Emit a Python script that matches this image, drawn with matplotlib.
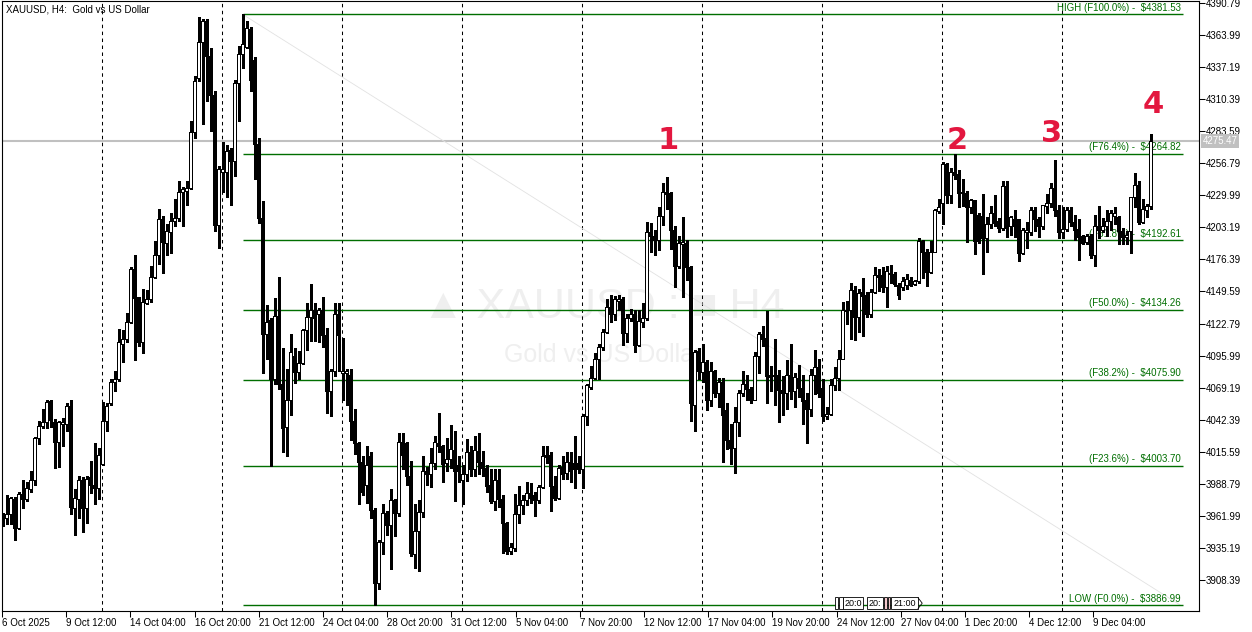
import numpy as np
import matplotlib.pyplot as plt
from matplotlib.patches import Rectangle, Polygon
import matplotlib.transforms as mtransforms

plt.rcParams['font.family'] = ['Liberation Sans', 'DejaVu Sans']
plt.rcParams['lines.scale_dashes'] = False

# XAUUSD H4 candles (bar 0 = 6 Oct 2025)
opens = [3963, 3960, 3963, 3976, 3952, 3980, 3976, 3984, 3992, 4027,
         4037, 4040, 4058, 4040, 4024, 4039, 4039, 4054, 3968, 3976,
         3992, 3968, 3994, 3988, 3985, 4005, 4041, 4056, 4074, 4076,
         4106, 4110, 4124, 4168, 4145, 4107, 4140, 4143, 4162, 4180,
         4210, 4190, 4199, 4209, 4211, 4233, 4234, 4236, 4283, 4328,
         4358, 4376, 4347, 4314, 4205, 4250, 4250, 4268, 4259, 4324,
         4348, 4354, 4369, 4343, 4273, 4211, 4114, 4126, 4076, 4129,
         4072, 4036, 4059, 4096, 4082, 4090, 4117, 4128, 4134, 4131,
         4134, 4113, 4066, 4083, 4131, 4081, 4081, 4080, 4041, 4023,
         4007, 3988, 4012, 3967, 3906, 3940, 3964, 3954, 3975, 3964,
         4024, 4023, 3995, 3930, 3949, 3965, 3999, 3997, 4006, 4023,
         4020, 4006, 4009, 4017, 4004, 3992, 3997, 4015, 4001, 4016,
         4007, 4002, 3988, 3974, 3992, 3976, 3956, 3932, 3935, 3963,
         3971, 3975, 3981, 3979, 3975, 3986, 4013, 4013, 3987, 3977,
         4003, 3998, 4007, 4006, 4006, 4001, 4045, 4070, 4077, 4093,
         4103, 4116, 4137, 4131, 4142, 4143, 4115, 4127, 4131, 4105,
         4124, 4127, 4199, 4196, 4193, 4213, 4233, 4232, 4201, 4171,
         4189, 4190, 4170, 4055, 4100, 4082, 4091, 4059, 4083, 4065,
         4074, 4050, 4025, 4019, 4040, 4065, 4072, 4068, 4059, 4096,
         4114, 4111, 4080, 4079, 4080, 4067, 4065, 4080, 4066, 4077,
         4069, 4059, 4051, 4080, 4086, 4069, 4045, 4047, 4071, 4077,
         4093, 4133, 4134, 4151, 4128, 4149, 4147, 4131, 4149, 4163,
         4163, 4153, 4164, 4164, 4155, 4153, 4155, 4159, 4156, 4158,
         4192, 4183, 4166, 4183, 4217, 4224, 4256, 4230, 4250, 4248,
         4233, 4232, 4220, 4226, 4214, 4213, 4194, 4206, 4215, 4209,
         4203, 4238, 4204, 4210, 4210, 4182, 4199, 4199, 4218, 4210,
         4204, 4221, 4224, 4236, 4218, 4199, 4202, 4218, 4208, 4202,
         4196, 4191, 4196, 4180, 4204, 4201, 4204, 4209, 4213, 4212,
         4200, 4195, 4200, 4229, 4239, 4208, 4218, 4221]
highs = [3964, 3979, 3978, 3978, 3982, 3992, 3990, 3999, 4028, 4041,
         4051, 4059, 4059, 4043, 4041, 4044, 4056, 4059, 3984, 3995,
         3994, 3995, 4008, 4023, 4019, 4057, 4056, 4076, 4083, 4118,
         4117, 4132, 4170, 4180, 4145, 4152, 4151, 4171, 4192, 4219,
         4213, 4206, 4215, 4227, 4242, 4237, 4242, 4292, 4330, 4379,
         4378, 4378, 4353, 4317, 4255, 4275, 4272, 4270, 4327, 4355,
         4381.53, 4376, 4371, 4346, 4278, 4225, 4138, 4127, 4144, 4162,
         4102, 4085, 4114, 4102, 4100, 4118, 4140, 4156, 4140, 4136,
         4145, 4119, 4085, 4140, 4140, 4111, 4085, 4085, 4051, 4024,
         4012, 4020, 4015, 3968, 3942, 3972, 3966, 3984, 3976, 4031,
         4031, 4024, 4008, 3972, 3975, 4012, 4003, 4019, 4029, 4048,
         4021, 4027, 4038, 4033, 4012, 4004, 4026, 4020, 4029, 4031,
         4016, 4004, 4001, 4001, 4001, 3979, 3957, 3939, 3980, 3987,
         3979, 3990, 3989, 3982, 3988, 4020, 4020, 4015, 3995, 4004,
         4012, 4015, 4015, 4029, 4012, 4047, 4072, 4087, 4098, 4106,
         4118, 4143, 4147, 4146, 4147, 4145, 4131, 4135, 4134, 4134,
         4140, 4208, 4207, 4201, 4220, 4240, 4245, 4233, 4204, 4196,
         4212, 4193, 4171, 4101, 4102, 4106, 4092, 4091, 4084, 4077,
         4077, 4056, 4039, 4053, 4067, 4083, 4080, 4070, 4099, 4116,
         4121, 4133, 4087, 4110, 4084, 4079, 4092, 4106, 4081, 4088,
         4080, 4065, 4085, 4101, 4093, 4076, 4053, 4076, 4086, 4101,
         4141, 4142, 4157, 4154, 4152, 4161, 4149, 4152, 4170, 4168,
         4170, 4171, 4172, 4166, 4157, 4162, 4164, 4162, 4159, 4194,
         4193, 4185, 4192, 4219, 4227, 4258, 4257, 4253, 4264.8, 4251,
         4244, 4234, 4227, 4226, 4215, 4231, 4212, 4221, 4230, 4211,
         4242, 4242, 4213, 4218, 4210, 4203, 4208, 4220, 4220, 4212,
         4222, 4231, 4240, 4260, 4222, 4220, 4220, 4220, 4214, 4210,
         4197, 4198, 4198, 4214, 4221, 4211, 4218, 4218, 4220, 4213,
         4203, 4200, 4229, 4249, 4242, 4227, 4223, 4281]
lows = [3953, 3955, 3955, 3942, 3951, 3968, 3974, 3982, 3988, 4022,
        4035, 4035, 4036, 4002, 4003, 4020, 4033, 3963, 3946, 3960,
        3948, 3956, 3981, 3972, 3976, 4004, 4033, 4055, 4066, 4075,
        4091, 4107, 4123, 4092, 4104, 4098, 4139, 4141, 4161, 4173,
        4165, 4180, 4182, 4204, 4209, 4204, 4222, 4235, 4278, 4326,
        4290, 4309, 4284, 4200, 4186, 4233, 4229, 4222, 4246, 4292,
        4337, 4353, 4317, 4244, 4207, 4081, 4093, 4003.7, 4072, 4068,
        4015, 4012, 4046, 4073, 4076, 4089, 4101, 4108, 4108, 4107,
        4103, 4048, 4045, 4079, 4083, 4059, 4055, 4025, 4014, 3972,
        3979, 3973, 3960, 3886.99, 3901, 3930, 3946, 3917, 3945, 3962,
        4001, 3988, 3928, 3918, 3916, 3961, 3988, 3986, 4001, 4015,
        3990, 3999, 4002, 3974, 3990, 3972, 3991, 3995, 3995, 3997,
        3995, 3982, 3973, 3967, 3969, 3931, 3930, 3930, 3932, 3956,
        3963, 3971, 3973, 3962, 3973, 3985, 4006, 3966, 3975, 3976,
        3993, 3993, 3990, 3985, 3998, 3985, 4038, 4068, 4076, 4076,
        4101, 4115, 4124, 4126, 4134, 4105, 4107, 4125, 4099, 4104,
        4120, 4126, 4183, 4180, 4184, 4205, 4219, 4185, 4153, 4169,
        4145, 4159, 4041, 4033, 4076, 4074, 4050, 4054, 4061, 4053,
        4007, 4018, 4005, 3998, 4029, 4062, 4059, 4056, 4059, 4081,
        4104, 4056, 4066, 4055, 4040, 4046, 4051, 4060, 4053, 4061,
        4039, 4023, 4045, 4064, 4061, 4041, 4043, 4046, 4067, 4067,
        4093, 4122, 4110, 4109, 4116, 4112, 4128, 4128, 4148, 4150,
        4149, 4137, 4157, 4154, 4143, 4151, 4152, 4154, 4155, 4157,
        4161, 4154, 4165, 4183, 4215, 4206, 4224, 4224, 4244, 4220,
        4221, 4191, 4215, 4181, 4190, 4164, 4183, 4203, 4204, 4199,
        4201, 4195, 4197, 4195, 4175, 4181, 4186, 4197, 4200, 4195,
        4202, 4215, 4220, 4213, 4194, 4194, 4200, 4204, 4193, 4176,
        4189, 4189, 4178, 4171, 4194, 4199, 4196, 4201, 4206, 4189,
        4189, 4189, 4182, 4220, 4206, 4207, 4212, 4219]
closes = [3956, 3963, 3977, 3952, 3980, 3976, 3985, 3992, 4027, 4037,
          4040, 4057, 4042, 4024, 4040, 4040, 4054, 3969, 3977, 3992,
          3968, 3993, 3988, 3985, 4013, 4041, 4054, 4074, 4076, 4107,
          4110, 4124, 4168, 4144, 4107, 4141, 4143, 4162, 4180, 4210,
          4191, 4200, 4209, 4211, 4233, 4235, 4236, 4283, 4326, 4358,
          4376, 4347, 4314, 4205, 4252, 4252, 4267, 4259, 4324, 4348,
          4357, 4370, 4327, 4273, 4211, 4114, 4124, 4076, 4129, 4072,
          4035, 4059, 4099, 4082, 4090, 4117, 4128, 4134, 4127, 4134,
          4113, 4066, 4083, 4131, 4113, 4083, 4083, 4041, 4023, 4007,
          3982, 4004, 3967, 3906, 3940, 3964, 3954, 3975, 3964, 4024,
          4013, 3995, 3931, 3949, 3965, 3999, 3997, 4006, 4024, 4020,
          4005, 4009, 4018, 3999, 3999, 3997, 4015, 4001, 4017, 4007,
          4002, 3987, 3974, 3992, 3976, 3956, 3932, 3936, 3963, 3971,
          3975, 3981, 3977, 3975, 3986, 4012, 4011, 3987, 3977, 4002,
          3997, 4007, 3999, 4001, 4001, 4045, 4071, 4077, 4093, 4103,
          4116, 4137, 4131, 4143, 4143, 4115, 4127, 4131, 4105, 4125,
          4127, 4199, 4196, 4193, 4213, 4233, 4231, 4201, 4171, 4190,
          4191, 4170, 4056, 4099, 4083, 4091, 4059, 4083, 4065, 4074,
          4046, 4025, 4019, 4040, 4065, 4072, 4068, 4059, 4096, 4114,
          4110, 4079, 4078, 4080, 4067, 4065, 4080, 4066, 4078, 4069,
          4058, 4051, 4080, 4086, 4065, 4045, 4047, 4071, 4077, 4093,
          4134, 4134, 4151, 4128, 4148, 4146, 4131, 4149, 4163, 4162,
          4153, 4167, 4165, 4156, 4147, 4158, 4160, 4155, 4158, 4192,
          4183, 4166, 4183, 4218, 4220, 4256, 4230, 4250, 4247, 4232,
          4232, 4220, 4226, 4192, 4192, 4194, 4206, 4215, 4207, 4203,
          4238, 4203, 4212, 4204, 4182, 4201, 4201, 4218, 4210, 4204,
          4222, 4224, 4236, 4218, 4199, 4202, 4218, 4208, 4201, 4195,
          4190, 4196, 4180, 4204, 4201, 4204, 4209, 4215, 4215, 4200,
          4195, 4197, 4229, 4239, 4208, 4219, 4221, 4275.47]

date_labels = ['6 Oct 2025', '9 Oct 12:00', '14 Oct 04:00', '16 Oct 20:00',
               '21 Oct 12:00', '24 Oct 04:00', '28 Oct 20:00', '31 Oct 12:00',
               '5 Nov 04:00', '7 Nov 20:00', '12 Nov 12:00', '17 Nov 04:00',
               '19 Nov 20:00', '24 Nov 12:00', '27 Nov 04:00', '1 Dec 20:00',
               '4 Dec 12:00', '9 Dec 04:00']
price_ticks = [4390.79, 4363.99, 4337.19, 4310.39, 4283.59, 4256.79, 4229.99,
               4203.19, 4176.39, 4149.59, 4122.79, 4095.99, 4069.19, 4042.39,
               4015.59, 3988.79, 3961.99, 3935.19, 3908.39]

fib_names = ['HIGH (F100.0%)', '(F76.4%)', '(F61.8%)', '(F50.0%)',
             '(F38.2%)', '(F23.6%)', 'LOW (F0.0%)']
fib_prices = [4381.53, 4264.82, 4192.61, 4134.26, 4075.90, 4003.70, 3886.99]

wave_labels = ['1', '2', '3', '4']
wave_bars = [166.3, 238.6, 262.3, 287.6]
wave_prices = [4276, 4276, 4282, 4306]

bid = 4275.47

GREEN = '#006e00'
RED = '#e3173f'

o = np.array(opens, float)
h = np.array(highs, float)
l = np.array(lows, float)
c = np.array(closes, float)
x = np.arange(len(o))

fig = plt.figure(figsize=(12.52, 6.32), dpi=100)
ax = fig.add_axes([2 / 1252, 21 / 632, 1197 / 1252, 610 / 632])
ax.set_xlim(-0.175, 299.1)
ax.set_ylim(3882.2, 4392.7)

# watermark
ax.text(0.502, 0.498, '\u25b2 XAUUSD : \u25a0 H4', transform=ax.transAxes,
        ha='center', va='center', fontsize=31, color='#efefef', zorder=0)
ax.text(0.502, 0.42, 'Gold vs US Dollar', transform=ax.transAxes,
        ha='center', va='center', fontsize=18, color='#efefef', zorder=0)

# weekly separators
for k in range(9):
    ax.axvline(24.8 + 30 * k, color='black', lw=0.75, ls=(0, (2.5, 2.5)), zorder=1)

# bid line
ax.axhline(bid, color='#c0c0c0', lw=1.5, zorder=1)

# fibo retracement
ax.plot([60, 294.5], [fib_prices[0], fib_prices[-1]], color='#e2e2e2', lw=0.6, zorder=1)
ax.hlines(fib_prices, 60, 295, color=GREEN, lw=1.0, zorder=2)
for name, p in zip(fib_names, fib_prices):
    ax.text(294.5, p + 1.3, f'{name} -  ${p:.2f}', ha='right', va='bottom',
            fontsize=7, color=GREEN, zorder=2)

# candles
up = c >= o
body_lo = np.minimum(o, c)
body_h = np.maximum(np.abs(c - o), 0.6)
ax.vlines(x, l, h, color='black', lw=0.75, zorder=3, antialiased=False)
ax.bar(x[up], body_h[up], bottom=body_lo[up], width=0.62, facecolor='white',
       edgecolor='black', lw=0.72, zorder=4, antialiased=False)
ax.bar(x[~up], body_h[~up], bottom=body_lo[~up], width=0.62, facecolor='black',
       edgecolor='black', lw=0.72, zorder=4, antialiased=False)

# wave count
for t, bx, py in zip(wave_labels, wave_bars, wave_prices):
    ax.text(bx, py, t, color=RED, fontsize=22, fontweight='bold',
            ha='center', va='center', family='DejaVu Sans', zorder=5)

# small time marks at the bottom
boxes = [(208.0, 208.8, '', 'white'), (209.2, 210.0, '', 'white'),
         (210.1, 215.1, '20:0', 'white'), (216.1, 220.1, '20:', 'white'),
         (220.3, 221.1, '', '#f4c8cc'), (221.3, 221.9, '', '#f4c8cc'),
         (222.1, 228.8, '21:00', 'white')]
for x0, x1, txt, fc in boxes:
    ax.add_patch(Rectangle((x0, 3884.0), x1 - x0, 9.5, facecolor=fc,
                           edgecolor='black', lw=0.6, zorder=5))
    if txt:
        ax.text((x0 + x1) / 2, 3888.8, txt, fontsize=6.5, ha='center',
                va='center', zorder=6)
ax.add_patch(Polygon([(228.8, 3884.0), (229.9, 3888.75), (228.8, 3893.5)],
                     closed=False, fill=False, edgecolor='black', lw=0.6, zorder=5))

# axes styling
for s in ax.spines.values():
    s.set_linewidth(0.8)
    s.set_color('black')
ax.yaxis.tick_right()
ax.set_yticks(price_ticks)
ax.set_yticklabels([f'{p:.2f}' for p in price_ticks])
ax.set_xticks(np.arange(len(date_labels)) * 16.05 - 0.175)
ax.set_xticklabels(date_labels)
for lab in ax.get_xticklabels():
    lab.set_ha('left')
ax.tick_params(axis='both', direction='out', length=4, width=0.75,
               labelsize=7, pad=1, colors='black')

# bid price tag on the price scale
trans = mtransforms.blended_transform_factory(ax.transAxes, ax.transData)
ax.text(1.003, bid, '4275.47', transform=trans, fontsize=7, color='white',
        va='center', ha='left',
        bbox=dict(facecolor='#c0c0c0', edgecolor='none', pad=1.2))

fig.text(6 / 1252, 1 - 9 / 632, 'XAUUSD, H4:  Gold vs US Dollar', fontsize=7,
         va='center', ha='left')

fig.savefig('out.png', dpi=100, facecolor='white')
